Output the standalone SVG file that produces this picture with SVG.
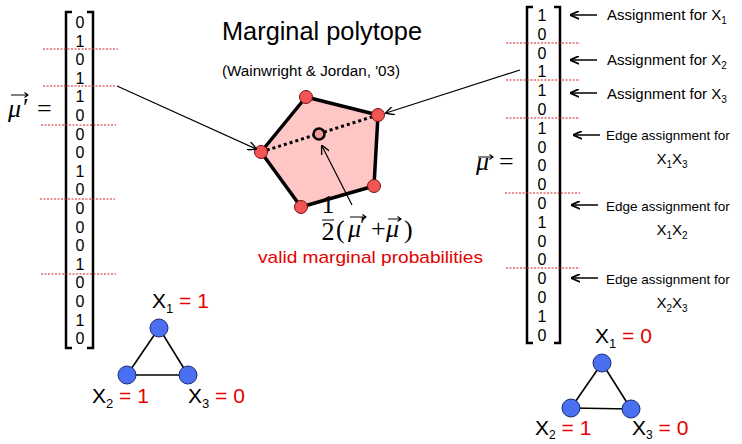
<svg xmlns="http://www.w3.org/2000/svg" width="742" height="444" viewBox="0 0 742 444">
<style>
.t{font-family:"Liberation Sans",Arial,sans-serif;fill:#000}
.d{font-family:"Liberation Sans",Arial,sans-serif;font-size:16px;fill:#000;text-anchor:middle}
.lab{font-family:"Liberation Sans",Arial,sans-serif;font-size:15px;fill:#000}
.edge{font-family:"Liberation Sans",Arial,sans-serif;font-size:13.5px;fill:#000}
.m{font-family:"Liberation Serif","DejaVu Serif",serif;font-size:26px;fill:#000}
.g{font-family:"Liberation Sans",Arial,sans-serif;font-size:21px;fill:#000}
.red{fill:#e60000}
.br{fill:none;stroke:#000;stroke-width:2.5}
.dot{stroke:#d02020;stroke-width:1.2;stroke-dasharray:2,1.5}
.conn{fill:none;stroke:#000;stroke-width:1.2}
.ann{fill:none;stroke:#000;stroke-width:1.5}
.vec{fill:none;stroke:#000;stroke-width:1.1}
.vx{fill:#f25555;stroke:#7a1010;stroke-width:1}
.gn{fill:#4a6ff0;stroke:#1a2a70;stroke-width:1}
.ge{stroke:#000;stroke-width:1.6}
</style>
<defs>
<marker id="ah" viewBox="0 0 10 10" refX="9" refY="5" markerWidth="9" markerHeight="9" markerUnits="userSpaceOnUse" orient="auto">
<path d="M0,0 L10,5 L0,10" fill="none" stroke="#000" stroke-width="1.5"/>
</marker>
<marker id="ah2" viewBox="0 0 10 10" refX="9" refY="5" markerWidth="9" markerHeight="9" markerUnits="userSpaceOnUse" orient="auto">
<path d="M0,0.5 L10,5 L0,9.5" fill="none" stroke="#000" stroke-width="2"/>
</marker>
</defs>

<g id="title">
<text class="t" x="222" y="40" font-size="26" textLength="200" lengthAdjust="spacingAndGlyphs">Marginal polytope</text>
<text class="t" x="222" y="76" font-size="14" textLength="178" lengthAdjust="spacingAndGlyphs">(Wainwright &amp; Jordan, '03)</text>
</g>

<g id="vector-mu-prime">
<text class="m" x="8" y="117" font-style="italic">μ</text>
<text class="m" x="23" y="116">′</text>
<path class="vec" d="M11 95 H28 M24.5 92.5 L28 95 L24.5 97.5"/>
<text class="m" x="37" y="117">=</text>
<path class="br" d="M72 12 H66 V348 H72"/>
<path class="br" d="M87 12 H93 V348 H87"/>
<line class="dot" x1="43" y1="49" x2="118" y2="49"/>
<line class="dot" x1="43" y1="86" x2="115" y2="86"/>
<line class="dot" x1="41" y1="125" x2="116" y2="125"/>
<line class="dot" x1="40" y1="199" x2="115" y2="199"/>
<line class="dot" x1="41" y1="274" x2="116" y2="274"/>
<text class="d" x="80" y="28">0</text>
<text class="d" x="80" y="46.6">1</text>
<text class="d" x="80" y="65.2">0</text>
<text class="d" x="80" y="83.8">1</text>
<text class="d" x="80" y="102.4">1</text>
<text class="d" x="80" y="121">0</text>
<text class="d" x="80" y="139.6">0</text>
<text class="d" x="80" y="158.2">0</text>
<text class="d" x="80" y="176.8">1</text>
<text class="d" x="80" y="195.4">0</text>
<text class="d" x="80" y="214">0</text>
<text class="d" x="80" y="232.6">0</text>
<text class="d" x="80" y="251.2">0</text>
<text class="d" x="80" y="269.8">1</text>
<text class="d" x="80" y="288.4">0</text>
<text class="d" x="80" y="307">0</text>
<text class="d" x="80" y="325.6">1</text>
<text class="d" x="80" y="344.2">0</text>
</g>

<g id="vector-mu">
<text class="m" x="476" y="170" font-style="italic">μ</text>
<path class="vec" d="M478 157 H493 M489.5 154.5 L493 157 L489.5 159.5"/>
<text class="m" x="499" y="170">=</text>
<path class="br" d="M533 7 H527 V343 H533"/>
<path class="br" d="M554 7 H560 V343 H554"/>
<line class="dot" x1="506" y1="43" x2="580" y2="43"/>
<line class="dot" x1="506" y1="80" x2="580" y2="80"/>
<line class="dot" x1="506" y1="118" x2="580" y2="118"/>
<line class="dot" x1="505" y1="193" x2="580" y2="193"/>
<line class="dot" x1="506" y1="268" x2="580" y2="268"/>
<text class="d" x="542" y="21">1</text>
<text class="d" x="542" y="39.8">0</text>
<text class="d" x="542" y="58.6">0</text>
<text class="d" x="542" y="77.4">1</text>
<text class="d" x="542" y="96.2">1</text>
<text class="d" x="542" y="115">0</text>
<text class="d" x="542" y="133.8">1</text>
<text class="d" x="542" y="152.6">0</text>
<text class="d" x="542" y="171.4">0</text>
<text class="d" x="542" y="190.2">0</text>
<text class="d" x="542" y="209">0</text>
<text class="d" x="542" y="227.8">1</text>
<text class="d" x="542" y="246.6">0</text>
<text class="d" x="542" y="265.4">0</text>
<text class="d" x="542" y="284.2">0</text>
<text class="d" x="542" y="303">0</text>
<text class="d" x="542" y="321.8">1</text>
<text class="d" x="542" y="340.6">0</text>
</g>

<g id="annotations">
<text class="lab" x="607" y="20">Assignment for X<tspan dy="4" font-size="10">1</tspan></text>
<text class="lab" x="607" y="65">Assignment for X<tspan dy="4" font-size="10">2</tspan></text>
<text class="lab" x="607" y="99">Assignment for X<tspan dy="4" font-size="10">3</tspan></text>
<text class="edge" x="606" y="140">Edge assignment for</text>
<text class="lab" x="672" y="164" text-anchor="middle">X<tspan dy="4" font-size="10">1</tspan><tspan dy="-4">X</tspan><tspan dy="4" font-size="10">3</tspan></text>
<text class="edge" x="606" y="211">Edge assignment for</text>
<text class="lab" x="672" y="235" text-anchor="middle">X<tspan dy="4" font-size="10">1</tspan><tspan dy="-4">X</tspan><tspan dy="4" font-size="10">2</tspan></text>
<text class="edge" x="606" y="284">Edge assignment for</text>
<text class="lab" x="672" y="308" text-anchor="middle">X<tspan dy="4" font-size="10">2</tspan><tspan dy="-4">X</tspan><tspan dy="4" font-size="10">3</tspan></text>
</g>

<g id="polytope">
<polygon points="306,97 378,115 374,186 301,207 261,152" fill="#ffc6c6" stroke="#000" stroke-width="3.5" stroke-linejoin="round"/>
<line x1="261" y1="152" x2="378" y2="115" stroke="#000" stroke-width="3" stroke-dasharray="3,3"/>
<circle class="vx" cx="306" cy="97" r="6.5"/>
<circle class="vx" cx="378" cy="115" r="6.5"/>
<circle class="vx" cx="374" cy="186" r="6.5"/>
<circle class="vx" cx="301" cy="207" r="6.5"/>
<circle class="vx" cx="261" cy="152" r="6.5"/>
<circle cx="319" cy="134" r="5.5" fill="#f59a9a" stroke="#000" stroke-width="2.5"/>
</g>

<g id="midpoint-label">
<text class="m" x="328" y="213" font-size="16" text-anchor="middle">1</text>
<line x1="322" y1="220" x2="334" y2="220" stroke="#000" stroke-width="1"/>
<text class="m" x="328" y="240" font-size="16" text-anchor="middle">2</text>
<text class="m" x="336" y="238" font-size="34">(</text>
<text class="m" x="348" y="237" font-size="22" font-style="italic">μ</text>
<text class="m" x="360" y="234" font-size="20">′</text>
<path class="vec" d="M350 217 H366 M362.5 214.5 L366 217 L362.5 219.5"/>
<text class="m" x="371" y="237" font-size="22">+</text>
<text class="m" x="386" y="237" font-size="22" font-style="italic">μ</text>
<path class="vec" d="M388 219 H401 M397.5 216.5 L401 219 L397.5 221.5"/>
<text class="m" x="404" y="238" font-size="34">)</text>
<text class="t red" x="258" y="263" font-size="17" textLength="225" lengthAdjust="spacingAndGlyphs">valid marginal probabilities</text>
</g>

<g id="connectors">
<line class="conn" x1="117" y1="86" x2="256" y2="149" marker-end="url(#ah)"/>
<line class="conn" x1="520" y1="70" x2="386" y2="113" marker-end="url(#ah)"/>
<line class="conn" x1="352" y1="205" x2="322" y2="146" marker-end="url(#ah)"/>
<line class="ann" x1="597" y1="15" x2="571" y2="15" marker-end="url(#ah2)"/>
<line class="ann" x1="597" y1="60" x2="571" y2="60" marker-end="url(#ah2)"/>
<line class="ann" x1="597" y1="93" x2="571" y2="93" marker-end="url(#ah2)"/>
<line class="ann" x1="600" y1="135" x2="574" y2="135" marker-end="url(#ah2)"/>
<line class="ann" x1="598" y1="205" x2="572" y2="205" marker-end="url(#ah2)"/>
<line class="ann" x1="598" y1="278" x2="572" y2="278" marker-end="url(#ah2)"/>
</g>

<g id="graph-left">
<line class="ge" x1="159" y1="328" x2="127" y2="375"/>
<line class="ge" x1="159" y1="328" x2="188" y2="375"/>
<line class="ge" x1="127" y1="375" x2="188" y2="375"/>
<circle class="gn" cx="159" cy="328" r="9"/>
<circle class="gn" cx="127" cy="375" r="9"/>
<circle class="gn" cx="188" cy="375" r="9"/>
<text class="g" x="152" y="308">X<tspan dy="5" font-size="13">1</tspan><tspan class="red" dy="-5"> = 1</tspan></text>
<text class="g" x="92" y="403">X<tspan dy="5" font-size="13">2</tspan><tspan class="red" dy="-5"> = 1</tspan></text>
<text class="g" x="188" y="403">X<tspan dy="5" font-size="13">3</tspan><tspan class="red" dy="-5"> = 0</tspan></text>
</g>

<g id="graph-right">
<line class="ge" x1="602" y1="363" x2="571" y2="408"/>
<line class="ge" x1="602" y1="363" x2="631" y2="409"/>
<line class="ge" x1="571" y1="408" x2="631" y2="409"/>
<circle class="gn" cx="602" cy="363" r="9"/>
<circle class="gn" cx="571" cy="408" r="9"/>
<circle class="gn" cx="631" cy="409" r="9"/>
<text class="g" x="595" y="343">X<tspan dy="5" font-size="13">1</tspan><tspan class="red" dy="-5"> = 0</tspan></text>
<text class="g" x="535" y="435">X<tspan dy="4" font-size="12">2</tspan><tspan class="red" dy="-4"> = 1</tspan></text>
<text class="g" x="632" y="435">X<tspan dy="4" font-size="12">3</tspan><tspan class="red" dy="-4"> = 0</tspan></text>
</g>
</svg>
